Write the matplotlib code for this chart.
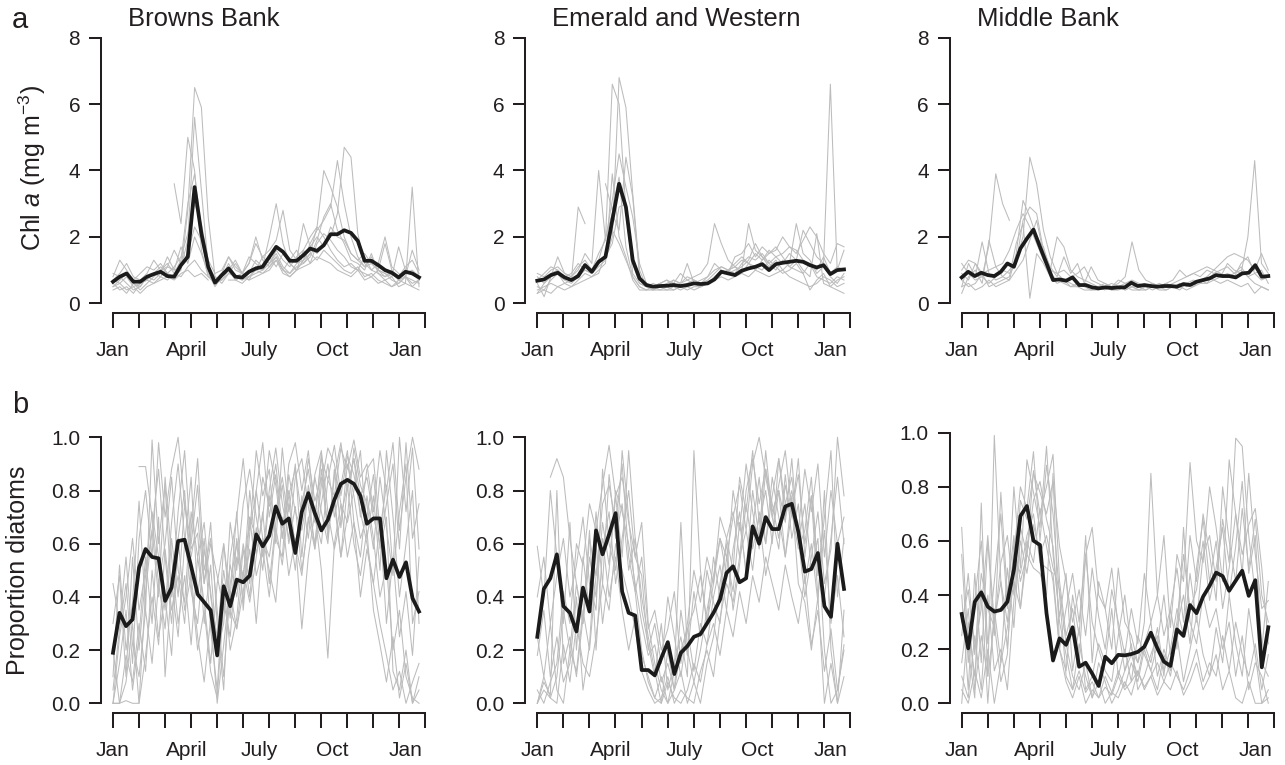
import numpy as np
import matplotlib.pyplot as plt

nan = np.nan

# ---- a: Chl a (mg m-3), one grey line per year, black = climatology ----
bb_chl_mean = [0.65,0.8,0.9,0.65,0.65,0.8,0.88,0.95,0.82,0.8, 1.15,1.4,3.5,2.1,1.1,0.62,0.85,1.05,0.8,0.78,
               0.95,1.05,1.1,1.4,1.7,1.55,1.28,1.28,1.45,1.65, 1.58,1.75,2.08,2.08,2.2,2.12,1.88,1.28,1.28,1.15,
               1.0,0.92,0.78,0.95,0.9,0.78]
bb_chl_years = [
    [0.7,0.6,0.8,0.5,0.6,0.7,0.9,1.1,0.9,0.8,1.0,2.8,6.5,5.9,2.6,0.8,0.7,1.0,1.3,0.9,0.8,1.0,1.4,1.2,1.6,1.3,1.1,1.4,1.6,1.2,1.8,2.1,1.9,1.6,1.4,1.1,1.0,0.9,0.8,1.0,0.9,0.7,0.6,0.8,0.7,0.6],
    [0.9,0.8,0.6,0.4,0.5,0.8,0.9,0.8,1.1,1.0,1.1,1.9,5.6,3.4,1.1,0.8,0.6,0.9,1.2,0.9,0.7,1.1,1.0,1.2,1.5,1.1,0.9,1.2,1.3,1.7,1.5,1.8,2.0,2.7,4.7,4.4,2.1,1.2,1.0,0.9,0.8,0.9,0.7,0.8,0.6,0.7],
    [nan,nan,nan,nan,nan,nan,nan,nan,nan,3.6,2.4,5.0,4.0,1.6,0.8,0.7,0.9,1.4,1.0,0.9,1.2,2.0,1.3,1.1,1.4,1.0,0.8,1.0,1.3,1.5,2.3,4.0,3.5,2.9,2.0,1.5,1.3,1.1,1.4,1.0,0.9,0.8,1.7,1.0,0.9,0.7],
    [0.5,0.7,0.9,0.6,0.4,0.6,0.8,1.0,1.2,0.9,1.3,3.0,3.9,2.2,1.0,0.6,0.8,1.2,0.8,0.7,0.9,1.3,1.1,2.0,3.0,1.8,1.2,1.0,1.3,1.8,2.2,2.5,2.9,4.3,3.0,2.0,1.4,1.1,1.2,1.0,0.8,1.0,0.7,0.9,1.0,0.8],
    [0.4,0.5,0.3,0.6,0.5,0.8,0.7,0.9,1.4,1.0,1.7,1.2,2.0,1.5,0.9,0.5,0.8,1.0,0.7,0.6,0.8,0.9,1.0,1.2,1.4,1.0,1.3,1.6,1.2,1.4,1.9,2.6,3.0,2.2,1.8,1.3,1.2,1.0,1.5,0.9,0.7,0.8,0.5,0.6,0.5,0.7],
    [0.8,1.3,1.0,0.7,0.9,1.1,1.0,1.2,0.9,1.1,1.4,2.1,3.0,2.4,1.3,0.9,1.0,1.4,1.1,0.9,1.2,1.8,1.4,1.6,1.9,2.8,1.6,1.3,2.4,1.7,2.0,1.7,2.3,2.0,1.9,1.5,1.3,1.5,1.2,1.0,1.8,1.0,0.8,1.1,1.3,0.9],
    [0.6,0.4,0.5,0.3,0.6,0.7,0.6,0.8,0.7,0.9,0.8,1.1,1.3,1.0,0.8,0.6,0.7,0.9,0.8,0.7,0.8,1.0,0.9,1.1,1.3,1.0,0.9,1.1,1.2,1.5,1.3,1.6,1.4,1.2,1.0,0.9,1.1,0.8,0.9,0.7,0.6,0.5,0.7,0.6,3.5,0.5],
    [0.7,0.9,1.2,0.8,0.7,0.9,1.3,1.0,1.1,1.6,1.2,1.5,2.3,1.9,1.0,0.7,0.9,1.1,0.8,0.9,1.4,1.2,1.0,1.4,1.1,1.5,1.2,1.0,1.6,2.0,2.3,2.0,1.6,1.3,1.1,1.2,1.0,1.4,1.0,1.2,2.0,1.1,0.9,0.8,1.6,1.0],
    [0.5,0.6,0.4,0.5,0.3,0.5,0.6,0.7,0.8,0.7,0.9,1.0,0.8,0.9,0.7,nan,nan,0.7,0.7,0.8,0.7,0.8,0.9,1.0,1.3,0.9,0.8,1.0,1.1,1.2,1.4,1.3,1.2,1.0,0.9,0.8,1.0,0.7,0.8,0.6,0.7,0.5,0.6,0.8,0.5,0.4],
]

ew_chl_mean = [0.68,0.72,0.85,0.92,0.78,0.7,0.82,1.15,0.95,1.25, 1.4,2.5,3.6,2.9,1.3,0.75,0.55,0.5,0.52,0.53,
               0.55,0.52,0.55,0.6,0.58,0.6,0.72,0.95,0.9,0.85, 0.98,1.05,1.1,1.18,1.0,1.18,1.22,1.25,1.28,1.25,
               1.15,1.08,1.15,0.88,1.0,1.02]
ew_chl_years = [
    [0.8,0.6,0.9,1.0,0.8,0.7,0.9,1.2,1.0,1.5,1.9,6.6,6.0,2.8,0.9,0.6,0.5,0.4,0.5,0.5,0.6,0.5,0.6,0.7,0.6,0.7,0.9,1.1,1.0,0.9,1.2,1.4,1.3,1.5,1.2,1.4,1.5,1.7,1.6,1.3,1.2,1.0,1.4,0.9,1.1,1.0],
    [0.5,0.4,0.7,0.9,0.7,0.6,0.8,1.0,0.9,1.1,1.3,2.0,6.8,5.9,3.3,1.0,0.5,0.4,0.4,0.5,0.4,0.5,0.5,0.4,0.5,0.6,0.8,1.0,0.9,1.0,1.1,1.3,1.8,1.4,1.2,1.0,1.3,1.1,1.0,0.9,1.2,0.8,0.7,0.6,0.8,0.7],
    [0.3,0.6,0.8,1.4,0.9,0.8,1.0,1.5,1.2,4.0,1.9,3.1,4.5,3.5,2.6,1.2,0.6,0.5,0.6,0.5,0.7,0.6,0.7,0.8,0.9,1.2,2.4,1.8,1.3,1.1,1.0,2.4,1.6,1.4,1.1,1.3,1.0,1.2,2.4,1.5,1.3,0.9,1.1,0.8,0.6,0.9],
    [0.6,0.2,0.8,0.9,0.6,0.7,2.9,2.4,nan,nan,3.6,2.8,3.8,1.7,0.8,0.5,0.4,0.5,0.6,0.7,0.5,0.6,1.2,0.6,0.5,0.6,0.7,0.9,1.0,1.2,1.4,1.2,1.0,1.3,1.5,1.7,1.4,1.1,1.3,1.0,0.8,2.1,0.6,0.5,0.4,0.3],
    [0.9,0.8,1.0,1.1,0.9,0.8,1.1,1.3,1.0,1.2,1.4,1.8,2.9,3.0,1.2,0.6,0.5,0.6,0.5,0.6,0.7,0.6,0.8,0.7,0.6,0.8,1.0,1.1,1.0,1.1,1.3,1.2,1.5,1.3,1.6,1.4,1.2,1.5,1.3,2.2,1.8,1.4,1.2,6.6,1.0,1.6],
    [0.4,0.5,0.6,0.5,0.6,0.5,0.7,0.9,0.8,1.0,1.2,3.9,2.0,1.4,0.7,0.4,0.4,0.5,0.4,0.4,0.5,0.4,0.5,0.6,0.5,0.6,0.8,0.9,1.0,1.1,0.9,1.2,1.1,1.0,1.3,1.1,0.9,1.0,1.2,0.9,0.4,0.7,0.9,0.5,0.7,0.8],
    [0.7,0.9,1.1,1.0,0.8,0.9,1.2,1.0,0.9,1.3,2.0,2.7,2.2,4.4,3.2,0.8,0.6,0.5,0.6,0.7,0.6,0.9,0.7,0.6,0.7,0.8,1.2,1.0,0.9,1.4,1.5,1.8,1.4,1.7,1.5,1.6,2.0,1.7,1.5,1.9,2.3,2.0,1.5,1.2,1.8,1.7],
    [0.3,0.4,0.3,0.5,0.4,0.5,0.6,0.7,0.8,0.9,1.5,2.2,1.8,1.3,0.8,0.5,0.4,0.4,0.5,0.4,0.4,0.5,0.4,0.5,0.5,0.6,0.7,0.8,0.7,0.8,0.9,0.8,1.0,0.9,0.8,0.9,1.0,0.8,0.7,0.6,0.5,0.6,0.8,0.7,0.5,0.6],
]

mb_chl_mean = [0.78,0.95,0.82,0.92,0.85,0.82,0.95,1.2,1.1,1.65, 1.95,2.22,1.7,1.2,0.7,0.72,0.68,0.78,0.55,0.55,
               0.48,0.45,0.48,0.46,0.48,0.48,0.62,0.52,0.55,0.52, 0.5,0.52,0.52,0.5,0.58,0.55,0.65,0.7,0.75,0.85,
               0.82,0.82,0.78,0.9,0.92,1.15,0.8,0.82]
mb_chl_years = [
    [0.9,0.7,1.2,0.8,1.75,3.9,3.0,2.5] + [nan] * 38,
    [0.5,1.2,0.8,1.85,0.9,0.7,0.8,1.0,1.3,2.0,4.4,3.6,2.2,1.4,0.9,0.7,0.6,0.5,0.6,0.5,0.4,0.5,0.4,0.5,0.4,0.5,0.5,0.4,0.5,0.6,0.5,0.6,0.7,0.8,0.9,0.8,1.0,0.9,0.8,1.2,1.0,0.9,2.0,4.3,1.2,0.9],
    [0.3,0.8,1.0,0.6,1.9,1.1,0.8,0.7,1.5,3.1,2.6,2.0,1.7,1.0,2.0,1.7,1.0,0.8,0.7,0.6,0.5,0.6,0.5,0.7,0.6,0.5,0.4,0.5,0.6,0.5,0.4,0.5,0.4,0.6,0.7,0.6,0.8,1.0,0.9,0.8,0.9,1.1,0.8,0.6,0.5,0.4],
    [1.2,0.9,0.7,0.8,0.6,0.8,1.0,0.9,1.2,2.5,2.9,2.7,1.6,1.1,0.8,1.4,0.9,1.2,0.6,1.1,0.7,0.6,0.5,0.6,0.8,1.85,1.0,0.7,0.6,0.5,0.6,0.5,0.5,0.6,0.5,0.7,0.6,0.9,1.0,1.1,0.9,1.0,0.8,0.9,0.7,0.8],
    [0.7,0.5,0.6,0.9,0.5,0.6,0.7,0.8,1.8,2.4,0.15,1.5,1.2,0.8,0.6,0.7,0.5,0.6,0.5,0.4,0.5,0.4,0.5,0.5,0.4,0.5,0.4,0.5,0.4,0.5,0.6,0.5,0.6,0.5,0.6,0.7,0.8,0.7,0.8,0.9,0.8,1.2,1.4,0.9,1.0,0.6],
    [1.0,1.3,1.2,0.9,1.0,1.1,1.2,1.6,2.2,2.7,2.3,1.8,1.3,1.0,0.9,1.0,0.8,0.9,1.1,0.7,0.6,0.5,0.6,0.5,0.6,0.7,0.6,0.5,0.6,0.5,0.6,0.7,1.0,0.8,0.9,1.0,1.1,1.0,1.2,1.4,1.5,1.4,1.3,1.0,1.5,1.0],
    [0.5,0.6,0.4,0.5,0.7,0.5,0.6,0.7,1.0,1.3,1.9,2.5,1.5,0.9,0.7,0.6,0.5,0.5,0.4,0.4,0.4,0.5,0.4,0.4,0.5,0.4,0.4,0.4,0.5,0.4,0.4,0.5,0.5,0.4,0.5,0.6,0.6,0.7,0.6,0.7,0.6,0.5,0.6,0.3,0.5,0.4],
]

# ---- b: proportion diatoms ----
bb_dia_mean = [0.19,0.34,0.29,0.315,0.51,0.58,0.55,0.545,0.385,0.435, 0.61,0.615,0.515,0.41,0.38,0.35,0.18,0.44,0.365,0.465,
               0.455,0.48,0.635,0.59,0.63,0.74,0.675,0.695,0.565,0.72, 0.79,0.715,0.65,0.69,0.765,0.825,0.84,0.825,0.78,0.675,
               0.695,0.695,0.47,0.54,0.475,0.53,0.395,0.345]
bb_dia_years = [
    [0.00,0.00,0.01,0.00,0.00,0.42,0.65,0.88,0.55,0.30,0.62,0.80,0.45,0.20,0.35,0.12,0.02,0.38,0.25,0.55,0.48,0.70,0.62,0.85,0.74,0.90,0.66,0.80,0.58,0.75,0.88,0.70,0.92,0.84,0.97,0.78,0.93,0.86,0.72,0.60,0.45,0.30,0.18,0.05,0.12,0.00,0.08,0.15],
    [0.10,0.52,0.20,0.38,0.76,0.35,0.99,0.60,0.82,0.40,0.72,0.95,0.58,0.64,0.30,0.52,0.18,0.60,0.40,0.72,0.35,0.64,0.95,0.78,0.88,0.60,0.96,0.72,0.90,0.55,0.82,0.68,0.94,0.62,0.85,0.98,0.80,0.92,0.70,0.88,0.92,0.65,0.82,0.50,1.00,0.72,0.96,0.58],
    [0.00,0.15,0.35,0.05,0.25,0.55,0.30,0.70,0.10,0.45,0.25,0.60,0.85,0.40,0.62,0.28,0.05,0.45,0.20,0.32,0.58,0.40,0.66,0.50,0.78,0.62,0.55,0.86,0.72,0.65,0.80,0.58,0.75,0.90,0.70,0.82,0.95,0.68,0.55,0.78,0.62,0.40,0.52,0.20,0.35,0.10,0.02,0.00],
    [nan,nan,nan,nan,0.89,0.89,0.70,0.45,0.60,0.85,0.50,0.38,0.72,0.55,0.68,0.40,0.25,0.50,0.32,0.62,0.45,0.80,0.56,0.70,0.95,0.82,0.62,0.78,0.88,0.70,0.92,0.76,0.85,0.65,0.78,0.55,0.70,0.96,0.82,0.75,0.58,0.85,0.66,0.48,0.72,0.90,0.30,0.42],
    [0.20,0.00,0.08,0.30,0.00,0.18,0.40,0.22,0.58,0.35,0.48,0.30,0.65,0.92,0.50,0.62,0.35,0.10,0.42,0.28,0.50,0.38,0.55,0.72,0.45,0.68,0.82,0.60,0.74,0.50,0.68,0.85,0.72,0.60,0.88,0.66,0.90,0.78,0.62,0.70,0.86,0.58,0.70,0.12,0.05,0.20,0.00,0.10],
    [0.05,0.28,0.45,0.15,0.62,0.80,0.55,0.98,0.70,0.88,1.00,0.75,0.60,0.82,0.45,0.68,0.30,0.05,0.55,0.70,0.92,0.65,0.80,0.98,0.70,0.86,0.62,0.90,0.98,0.80,0.95,0.70,0.60,0.84,0.78,0.96,0.88,0.99,0.85,0.90,0.72,0.95,0.80,0.98,0.65,0.85,1.00,0.88],
    [0.30,0.48,0.10,0.55,0.20,0.48,0.65,0.40,0.85,0.55,0.30,0.48,0.22,0.55,0.38,0.15,0.45,0.60,0.35,0.28,0.42,0.58,0.30,0.62,0.50,0.38,0.70,0.48,0.62,0.28,0.55,0.72,0.50,0.17,0.60,0.75,0.55,0.68,0.40,0.58,0.45,0.68,0.30,0.55,0.25,0.42,0.18,0.55],
    [0.00,0.25,0.40,0.62,0.35,0.50,0.72,0.55,0.35,0.68,0.90,0.62,0.42,0.30,0.58,0.42,0.20,0.30,0.68,0.50,0.75,0.88,0.70,0.55,0.80,0.96,0.75,0.62,0.85,0.92,0.74,0.60,0.82,0.96,0.90,0.75,0.68,0.80,0.95,0.62,0.78,0.50,0.95,0.70,0.40,0.60,0.80,0.30],
    [0.45,0.30,0.55,0.22,0.10,0.35,0.15,0.45,0.28,0.62,0.40,0.75,0.55,0.70,0.45,0.60,0.48,0.35,0.52,0.40,0.60,0.45,0.80,0.62,0.55,0.72,0.85,0.68,0.50,0.78,0.62,0.86,0.95,0.72,0.58,0.70,0.82,0.92,0.78,0.85,0.70,0.60,0.75,0.90,0.58,0.98,0.62,0.75],
    [0.00,0.00,0.18,0.08,0.30,0.12,0.50,0.25,0.40,0.18,0.62,0.35,0.48,0.25,0.08,0.32,0.00,0.22,0.45,0.60,0.38,0.70,0.48,0.58,0.40,0.66,0.52,0.75,0.60,0.48,0.70,0.58,0.88,0.66,0.75,0.55,0.82,0.60,0.48,0.65,0.35,0.22,0.08,0.25,0.02,0.15,0.00,0.05],
]

ew_dia_mean = [0.25,0.43,0.47,0.56,0.365,0.34,0.27,0.435,0.345,0.65, 0.56,0.635,0.715,0.42,0.34,0.33,0.125,0.125,0.105,0.17,
               0.23,0.11,0.19,0.215,0.25,0.26,0.3,0.34,0.39,0.49, 0.515,0.455,0.47,0.665,0.6,0.7,0.655,0.655,0.74,0.75,
               0.645,0.495,0.505,0.565,0.365,0.325,0.6,0.43]
ew_dia_years = [
    [0.00,0.05,0.02,0.10,0.35,0.20,0.45,0.30,0.62,0.48,0.75,0.82,0.68,0.90,0.55,0.42,0.20,0.08,0.02,0.10,0.00,0.05,0.12,0.00,0.08,0.20,0.35,0.48,0.62,0.55,0.70,0.82,0.65,0.90,1.00,0.85,0.72,0.80,0.68,0.92,0.60,0.75,0.50,0.62,0.20,0.00,0.05,0.22],
    [0.59,0.40,0.80,0.55,0.30,0.68,0.20,0.55,0.35,0.72,0.45,0.86,0.62,0.75,0.50,0.62,0.35,0.22,0.10,0.30,0.05,0.15,0.25,0.10,0.95,0.50,0.30,0.45,0.62,0.48,0.80,0.65,0.90,0.72,0.58,0.88,0.75,0.62,0.82,0.70,0.92,0.55,0.78,0.40,0.65,0.30,0.48,0.25],
    [nan,nan,0.85,0.92,0.85,0.62,0.45,0.30,0.55,0.40,0.68,0.52,0.80,0.72,0.60,0.45,0.30,0.18,0.22,0.08,0.15,0.05,0.20,0.28,0.12,0.30,0.22,0.40,0.52,0.35,0.58,0.72,0.48,0.66,0.85,0.60,0.78,0.92,0.70,0.80,0.65,0.88,0.72,0.90,0.55,0.80,0.60,0.70],
    [0.18,0.35,0.10,0.25,0.08,0.15,0.40,0.05,0.22,0.60,0.30,0.50,0.78,0.55,0.95,0.62,0.40,0.25,0.12,0.00,0.20,0.05,0.35,0.18,0.42,0.25,0.50,0.38,0.30,0.55,0.42,0.68,0.50,0.80,0.62,0.95,0.70,0.58,0.86,0.62,0.75,0.45,0.60,0.38,0.80,0.20,0.00,0.10],
    [0.00,0.08,0.03,0.80,0.15,0.25,0.10,0.32,0.65,0.20,0.58,0.72,0.45,0.62,0.80,0.55,0.68,0.30,0.15,0.05,0.00,0.12,0.68,0.20,0.08,0.00,0.15,0.25,0.45,0.60,0.35,0.52,0.75,0.58,0.70,0.48,0.62,0.80,0.55,0.72,0.58,0.65,0.85,0.48,0.70,0.95,0.40,0.62],
    [0.40,0.55,0.30,0.48,0.62,0.40,0.52,0.70,0.45,0.35,0.88,0.60,0.50,0.95,0.70,0.42,0.55,0.28,0.35,0.20,0.28,0.42,0.15,0.30,0.50,0.38,0.55,0.45,0.70,0.62,0.50,0.85,0.72,0.95,0.68,0.80,0.60,0.92,0.75,0.85,0.62,0.40,0.55,0.72,0.45,0.58,1.00,0.78],
    [0.25,0.10,0.30,0.05,0.00,0.20,0.12,0.35,0.20,0.48,0.62,0.40,0.55,0.35,0.20,0.32,0.18,0.10,0.02,0.00,0.08,0.02,0.00,0.05,0.15,0.08,0.22,0.30,0.18,0.35,0.25,0.42,0.30,0.48,0.38,0.55,0.45,0.35,0.52,0.40,0.30,0.48,0.22,0.35,0.12,0.28,0.05,0.20],
    [0.05,0.00,0.08,0.15,0.42,0.30,0.60,0.52,0.75,0.65,0.82,0.97,0.78,0.85,0.68,0.55,0.48,0.20,0.30,0.15,0.40,0.25,0.10,0.28,0.35,0.48,0.30,0.55,0.40,0.62,0.72,0.55,0.80,0.92,0.75,0.88,0.70,0.82,0.95,0.72,0.86,0.60,0.78,0.52,0.40,0.62,0.85,0.60],
    [0.00,0.10,0.02,0.00,0.22,0.08,0.30,0.15,0.10,0.25,0.45,0.35,0.60,0.50,0.40,0.28,0.12,0.05,0.00,0.02,0.10,0.00,0.05,0.02,0.00,0.12,0.20,0.10,0.32,0.45,0.38,0.55,0.65,0.50,0.72,0.60,0.85,0.70,0.55,0.78,0.45,0.38,0.20,0.40,0.00,0.15,0.00,0.35],
]

mb_dia_mean = [0.33,0.203,0.375,0.41,0.357,0.339,0.345,0.375,0.493,0.692, 0.729,0.601,0.585,0.333,0.158,0.24,0.216,0.281,0.135,0.15,
               0.11,0.064,0.172,0.148,0.179,0.177,0.182,0.19,0.209,0.261, 0.203,0.154,0.138,0.273,0.249,0.363,0.333,0.394,0.434,0.483,
               0.47,0.416,0.453,0.49,0.397,0.455,0.133,0.281]
mb_dia_years = [
    [0.65,0.20,0.02,0.74,0.10,0.99,0.45,0.30,0.55,0.80,0.72,0.93,0.60,0.88,0.70,0.40,0.10,0.05,0.12,0.04,0.08,0.02,0.06,0.03,0.10,0.05,0.08,0.12,0.05,0.10,0.03,0.08,0.15,0.10,0.05,0.12,0.20,0.08,0.15,0.10,0.25,0.12,0.30,0.18,0.10,0.22,0.05,0.18],
    [0.40,0.05,0.48,0.15,0.60,0.25,0.78,0.40,0.62,0.35,0.55,0.86,0.70,0.80,0.92,0.45,0.25,0.35,0.15,0.55,0.30,0.20,0.12,0.08,0.25,0.40,0.20,0.15,0.30,0.85,0.40,0.25,0.35,0.50,0.30,0.62,0.45,0.70,0.55,0.38,0.80,0.60,0.45,0.72,0.50,0.68,0.40,0.30],
    [0.00,0.30,0.10,0.42,0.00,0.35,0.15,0.50,0.28,0.65,0.55,0.75,0.82,0.68,0.58,0.30,0.18,0.05,0.22,0.10,0.02,0.15,0.08,0.00,0.05,0.12,0.18,0.10,0.22,0.15,0.28,0.12,0.20,0.35,0.25,0.48,0.30,0.55,0.62,0.45,0.68,0.52,0.98,0.95,0.62,0.40,0.15,0.10],
    [0.25,0.48,0.20,0.35,0.62,0.30,0.45,0.20,0.55,0.48,0.62,0.70,0.52,0.50,0.48,0.20,0.35,0.48,0.30,0.55,0.65,0.40,0.35,0.20,0.50,0.30,0.25,0.15,0.22,0.30,0.10,0.20,0.12,0.28,0.40,0.22,0.50,0.68,0.45,0.60,0.35,0.50,0.70,0.55,0.66,0.72,0.50,0.22],
    [0.10,0.02,0.25,0.05,0.40,0.12,0.20,0.05,0.38,0.60,0.48,0.66,0.55,0.62,0.50,0.42,0.22,0.10,0.05,0.15,0.02,0.08,0.00,0.04,0.12,0.06,0.15,0.08,0.20,0.12,0.05,0.18,0.10,0.25,0.08,0.20,0.32,0.18,0.10,0.28,0.15,0.40,0.22,0.10,0.35,0.18,0.00,0.05],
    [0.55,0.15,0.38,0.60,0.22,0.45,0.70,0.35,0.80,0.50,0.90,0.78,0.65,0.95,0.55,0.32,0.48,0.12,0.28,0.05,0.10,0.22,0.15,0.35,0.10,0.20,0.08,0.25,0.18,0.12,0.22,0.40,0.18,0.30,0.55,0.35,0.42,0.60,0.38,0.50,0.65,0.40,0.58,0.82,0.48,0.62,0.20,0.45],
    [0.05,0.00,0.12,0.02,0.20,0.00,0.15,0.28,0.45,0.35,0.60,0.52,0.72,0.58,0.45,0.20,0.08,0.02,0.10,0.00,0.05,0.02,0.10,0.04,0.02,0.08,0.03,0.12,0.06,0.10,0.15,0.08,0.05,0.12,0.03,0.08,0.15,0.05,0.10,0.18,0.05,0.12,0.02,0.00,0.08,0.00,0.00,0.02],
    [0.30,0.42,0.18,0.48,0.35,0.28,0.52,0.62,0.40,0.75,0.68,0.85,0.78,0.70,0.82,0.58,0.45,0.30,0.42,0.25,0.50,0.32,0.20,0.42,0.30,0.18,0.35,0.22,0.48,0.30,0.40,0.62,0.28,0.55,0.45,0.89,0.60,0.52,0.80,0.65,0.45,0.90,0.70,0.48,0.85,0.55,0.35,0.38],
    [0.15,0.35,0.05,0.25,0.10,0.30,0.08,0.18,0.60,0.45,0.55,0.50,0.48,0.40,0.85,0.20,0.12,0.40,0.25,0.62,0.15,0.45,0.35,0.50,0.28,0.12,0.22,0.05,0.10,0.18,0.25,0.10,0.35,0.20,0.65,0.30,0.22,0.40,0.28,0.35,0.20,0.30,0.10,0.25,0.05,0.15,0.10,0.00],
]

regions = ["Browns Bank", "Emerald and Western", "Middle Bank"]
month_labels = ["Jan", "April", "July", "Oct", "Jan"]
month_label_pos = [0, 2.82, 5.63, 8.45, 11.27]
chl_ticks = [0, 2, 4, 6, 8]
dia_ticks = [0.0, 0.2, 0.4, 0.6, 0.8, 1.0]

plt.rcParams['font.family'] = ['Liberation Sans', 'DejaVu Sans']
plt.rcParams['mathtext.fontset'] = 'custom'
plt.rcParams['mathtext.rm'] = 'Liberation Sans'
plt.rcParams['mathtext.it'] = 'Liberation Sans:italic'

INK = '#231f20'
GREY = '#bcbcbc'
END = 11.77   # last composite sits a bit before the closing tick

W, H = 1285, 765
fig = plt.figure(figsize=(W / 100, H / 100), dpi=100)


def panel(x0, x1, ytop, ybot, ymax, yticks, fmt, years, mean):
    ax = fig.add_axes([x0 / W, 1 - ybot / H, (x1 - x0) / W, (ybot - ytop) / H])
    ax.set_facecolor('none')
    for yr in years:
        ax.plot(np.linspace(0, END, len(yr)), yr, color=GREY, lw=0.75, clip_on=False)
    ax.plot(np.linspace(0, END, len(mean)), mean, color='#1b1b1b', lw=2.7,
            clip_on=False, solid_joinstyle='round')
    ax.set_xlim(0, 12)
    ax.set_ylim(0, ymax)
    ax.spines['top'].set_visible(False)
    ax.spines['right'].set_visible(False)
    for s in ['left', 'bottom']:
        ax.spines[s].set_linewidth(1.45)
        ax.spines[s].set_color(INK)
    ax.spines['left'].set_position(('outward', 8.6))
    ax.spines['bottom'].set_position(('outward', 7.2))
    ax.spines['left'].set_bounds(0, ymax)
    ax.spines['bottom'].set_bounds(0, 12)

    ax.set_yticks(yticks)
    ax.set_yticklabels([fmt.format(v) for v in yticks])
    ax.tick_params(axis='y', length=9, width=1.45, pad=6, labelsize=15, colors=INK)

    # plain tick marks every month, month names placed separately
    ax.xaxis.remove_overlapping_locs = False
    ax.set_xticks(np.arange(13))
    ax.set_xticklabels([])
    ax.set_xticks(month_label_pos, minor=True)
    ax.set_xticklabels(month_labels, minor=True)
    ax.tick_params(axis='x', which='major', length=10.5, width=1.45, colors=INK)
    ax.tick_params(axis='x', which='minor', length=0, pad=20, labelsize=15, colors=INK)
    return ax


# panel pixel frames: (x of first tick, x of last tick)
cols = [(113, 425), (537.3, 850), (961.7, 1274.3)]
top_data = [(bb_chl_years, bb_chl_mean), (ew_chl_years, ew_chl_mean), (mb_chl_years, mb_chl_mean)]
bot_data = [(bb_dia_years, bb_dia_mean), (ew_dia_years, ew_dia_mean), (mb_dia_years, mb_dia_mean)]

for i, (x0, x1) in enumerate(cols):
    panel(x0, x1, 37.7, 303.3, 8, chl_ticks, '{:.0f}', *top_data[i])
    ytop = 432.7 if i == 2 else 437.3
    panel(x0, x1, ytop, 703.3, 1.0, dia_ticks, '{:.1f}', *bot_data[i])
    fig.text((x0 + 15) / W, 1 - 26 / H, regions[i], fontsize=18.5, color=INK, va='baseline', ha='left')

fig.text(12 / W, 1 - 28.3 / H, 'a', fontsize=21, color=INK, va='baseline', ha='left')
fig.text(12 / W, 1 - 413.3 / H, 'b', fontsize=21, color=INK, va='baseline', ha='left')
fig.text(32 / W, 1 - 168 / H, r'Chl $a$ (mg m$^{-3}$)', fontsize=18, color=INK,
         rotation=90, ha='center', va='center')
fig.text(18 / W, 1 - 570 / H, 'Proportion diatoms', fontsize=18, color=INK,
         rotation=90, ha='center', va='center')

fig.savefig('out.png', dpi=100, facecolor='white')
